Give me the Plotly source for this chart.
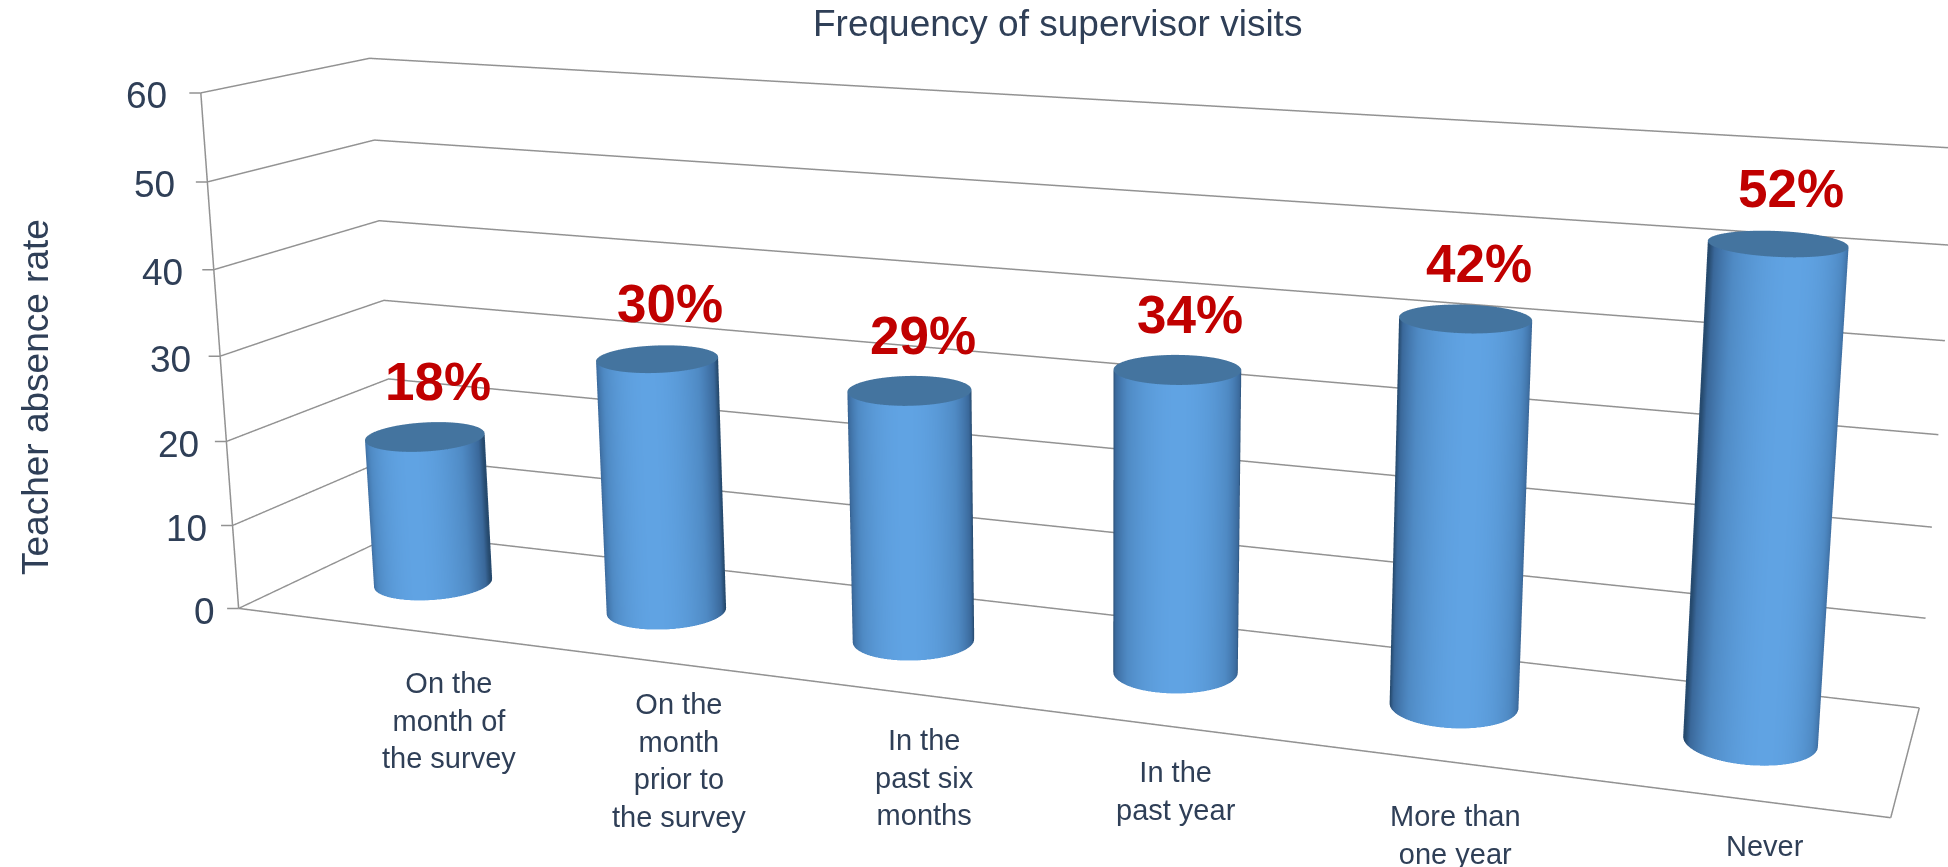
import numpy as np
import plotly.graph_objects as go

categories = ["On the<br>month of<br>the survey", "On the<br>month<br>prior to<br>the survey",
              "In the<br>past six<br>months", "In the<br>past year", "More than<br>one year", "Never"]
values = [18, 30, 29, 34, 42, 52]
z_ticks = [0, 10, 20, 30, 40, 50, 60]
title_text = "Frequency of supervisor visits"
y_title = "Teacher absence rate"

TXT = "#2f3f57"
RED = "#c00000"
GRID = "#929292"
FONT = "Liberation Sans, Arial, sans-serif"

W, H = 2415, 2374   # larger canvas gives the flatter, off-centre perspective of the original
OFFSET = 827        # px of the canvas hidden above the window

label_shift = [95, 83, 72, 50, 39, 38]
label_drop = [-42, -32, -36, -33, -40, -31]

side_scale = [[0, "#264a6e"], [0.12, "#3a689a"], [0.5, "#4f8ac4"], [1, "#60a3e3"]]
cap_scale = [[0, "#44749f"], [1, "#44749f"]]

RX, RY = 0.218, 0.213
theta = np.linspace(0, 2 * np.pi, 145)
flat = dict(ambient=1, diffuse=0, specular=0, roughness=1, fresnel=0)

fig = go.Figure()
for i, v in enumerate(values):
    cx, cy = i + 0.5, 0.5
    xs = cx + RX * np.cos(theta)
    ys = cy + RY * np.sin(theta)
    X = np.vstack([xs, xs])
    Y = np.vstack([ys, ys])
    Z = np.vstack([np.zeros_like(theta), np.full_like(theta, v)])
    # a fixed light in front of the chart, slightly to the right
    face = np.clip(np.cos(theta + np.radians(70)), 0, 1) ** 1.5
    fig.add_trace(go.Surface(x=X, y=Y, z=Z, surfacecolor=np.vstack([face, face]),
                             colorscale=side_scale, cmin=0, cmax=1, showscale=False,
                             hoverinfo="skip", lighting=flat))
    rr = np.array([0.0, 1.0])
    Xc = cx + RX * np.outer(rr, np.cos(theta))
    Yc = cy + RY * np.outer(rr, np.sin(theta))
    Zc = np.full_like(Xc, v, dtype=float)
    fig.add_trace(go.Surface(x=Xc, y=Yc, z=Zc, surfacecolor=np.zeros_like(Xc),
                             colorscale=cap_scale, cmin=0, cmax=1, showscale=False,
                             hoverinfo="skip", lighting=flat))

# chart-box edges that the axis grid does not give
edges = [([0, 6], [0, 0], [0, 0]), ([6, 6], [0, 1], [0, 0]),
         ([0, 0], [0, 0], [0, 60])]
for ex, ey, ez in edges:
    fig.add_trace(go.Scatter3d(x=ex, y=ey, z=ez, mode="lines", hoverinfo="skip", showlegend=False,
                               line=dict(color=GRID, width=3)))

ann = []
for t in z_ticks:
    ann.append(dict(x=0, y=0, z=t, text=" ", showarrow=True, arrowhead=0, arrowwidth=1.5,
                    arrowcolor=GRID, ax=-13, ay=0, font=dict(size=1)))
    ann.append(dict(x=0, y=0, z=t, text=str(t), showarrow=False, xanchor="right", yanchor="middle",
                    xshift=-22 - 0.17 * t, yshift=-3, font=dict(size=37, color=TXT, family=FONT)))
for i, c in enumerate(categories):
    ann.append(dict(x=i + 0.5, y=0, z=0, text=c, showarrow=False, xanchor="center", yanchor="top",
                    xshift=label_shift[i], yshift=label_drop[i], font=dict(size=29, color=TXT, family=FONT)))
for i, v in enumerate(values):
    ann.append(dict(x=i + 0.5, y=0.5, z=v, text=f"{v}%", showarrow=False, xanchor="center", yanchor="bottom",
                    xshift=13, yshift=24, font=dict(size=53, color=RED, family=FONT, weight="bold")))

def off_axis(**extra):
    return dict(showgrid=False, zeroline=False, showline=False, showticklabels=False,
                showbackground=False, ticks="", title="", showspikes=False, **extra)

fig.update_layout(
    width=W, height=H, margin=dict(l=0, r=0, t=0, b=0, pad=0),
    paper_bgcolor="white", showlegend=False,
    scene=dict(
        domain=dict(x=[0, 1], y=[0, 1]),
        aspectmode="manual", aspectratio=dict(x=3.1189, y=0.5326, z=1.0),
        camera=dict(eye=dict(x=1.8594, y=-4.6797, z=1.2619),
                    center=dict(x=0.2804, y=0.1079, z=0.0618),
                    up=dict(x=-0.0808, y=0.2173, z=0.9727),
                    projection=dict(type="perspective")),
        xaxis=off_axis(range=[0, 6]),
        yaxis=off_axis(range=[0, 1]),
        zaxis=dict(range=[0, 60], tickvals=z_ticks, showgrid=True, gridcolor=GRID, gridwidth=3,
                   zeroline=False, showline=False, showticklabels=False, ticks="",
                   showbackground=False, title="", showspikes=False),
        annotations=ann,
    ),
    annotations=[
        dict(xref="paper", yref="paper", x=1057 / W, y=1 - (24 + OFFSET) / H, text=title_text,
             showarrow=False, xanchor="center", yanchor="middle", font=dict(size=37, color=TXT, family=FONT)),
        dict(xref="paper", yref="paper", x=36 / W, y=1 - (397 + OFFSET) / H, text=y_title, textangle=-90,
             showarrow=False, xanchor="center", yanchor="middle", font=dict(size=37, color=TXT, family=FONT)),
    ],
)

post = f"""
document.documentElement.style.overflow='hidden';
document.body.style.overflow='hidden';
document.body.style.margin='0';
document.getElementById('{{plot_id}}').style.marginTop='-{OFFSET}px';
"""
fig.write_html("out.html", post_script=post)
